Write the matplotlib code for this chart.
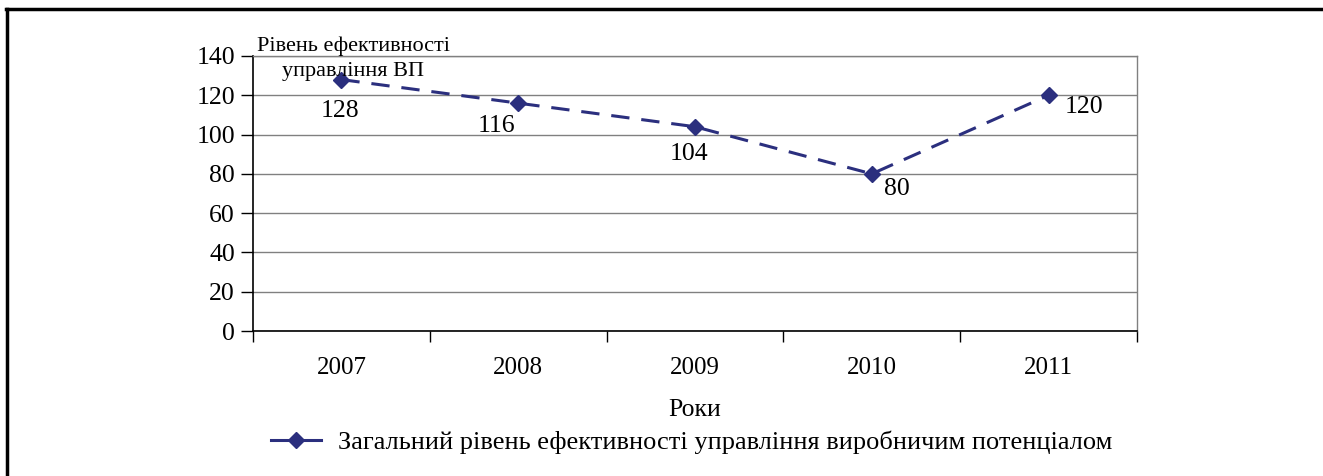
import matplotlib
matplotlib.use("Agg")
import matplotlib.pyplot as plt
from matplotlib.lines import Line2D

years = ["2007", "2008", "2009", "2010", "2011"]
values = [128, 116, 104, 80, 120]
yticks = [0, 20, 40, 60, 80, 100, 120, 140]
series_name = "Загальний рівень ефективності управління виробничим потенціалом"
y_title = "Рівень ефективності\nуправління ВП"
x_title = "Роки"

plt.rcParams['font.family'] = ['Liberation Serif', 'DejaVu Serif']
W, H = 1323, 476
fig = plt.figure(figsize=(W/100, H/100), dpi=100)
ax = fig.add_axes([253/W, 1-331/H, (1137-253)/W, (331-56)/H])

color = "#2B2F7E"
x = list(range(len(years)))
ax.plot(x, values, color=color, lw=2.2, dashes=(6, 3.9), marker='D', ms=8.5,
        mfc=color, mec=color, label=series_name, zorder=3)

ax.set_xlim(-0.5, len(years) - 0.5)
ax.set_ylim(0, 140)
ax.set_yticks(yticks)
ax.set_yticklabels([str(v) for v in yticks], fontsize=18.5)
ax.set_xticks(x)
ax.set_xticklabels(years, fontsize=18)
ax.set_xticks([i - 0.5 for i in range(len(years) + 1)], minor=True)
ax.tick_params(axis='x', which='major', length=0, pad=19)
ax.tick_params(axis='x', which='minor', length=8, width=1, color='black', direction='out')
ax.tick_params(axis='y', length=9, width=1, direction='out', pad=4)

ax.grid(axis='y', color='#808080', lw=1)
ax.set_axisbelow(True)
for s in ['top', 'right']:
    ax.spines[s].set_color('#808080')
    ax.spines[s].set_linewidth(1)
for s in ['left', 'bottom']:
    ax.spines[s].set_color('black')
    ax.spines[s].set_linewidth(1.2)

offsets = [(-1, -31), (-22, -23), (-6, -27), (25, -15), (35, -12)]
for xi, v, (dx, dy) in zip(x, values, offsets):
    ax.annotate(str(v), (xi, v), xytext=(dx, dy), textcoords='offset pixels',
                ha='center', va='center', fontsize=18.5)

fig.text(353/W, 1-59/H, y_title, ha='center', va='center', fontsize=16, linespacing=1.45)
fig.text(695/W, 1-410/H, x_title, ha='center', va='center', fontsize=18.5)

leg = fig.legend(handles=[Line2D([0], [0], color=color, lw=2.2, marker='D', ms=8.5,
                                 mfc=color, mec=color)],
                 labels=[series_name], loc='center', bbox_to_anchor=(692/W, 1-442/H),
                 frameon=False, fontsize=19, handlelength=1.9, handletextpad=0.65)

fig.add_artist(Line2D([6/W, 1], [1-9/H, 1-9/H], color='black', lw=2.5))
fig.add_artist(Line2D([7/W, 7/W], [0, 1-9/H], color='black', lw=2.5))

fig.savefig("out.png", dpi=100)
